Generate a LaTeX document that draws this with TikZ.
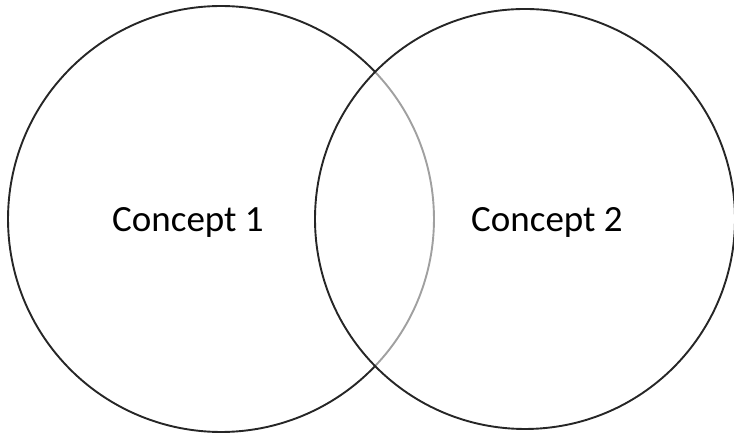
\documentclass[tikz,border=0pt]{standalone}
\usepackage{xcolor}
\usepackage{fontspec}
\setmainfont{Carlito}
\usepackage{tikz}
\usetikzlibrary{positioning}

\definecolor{ringdark}{HTML}{262626}
\definecolor{ringgray}{HTML}{A0A0A0}

\begin{document}
\begin{tikzpicture}[x=1pt,y=1pt,
  ring/.style={line width=1.9pt, draw=ringdark},
  conceptlabel/.style={font=\fontsize{37}{44}\selectfont, text=black, anchor=base, inner sep=0pt}]
  \useasboundingbox (0,0) rectangle (734,435);
  \coordinate (c1) at (221,216);
  \coordinate (c2) at (525,216);
  % left circle: outer arc dark, arc inside the right circle gray
  \draw[ring] (c1) ++(43.65:213) arc[start angle=43.65, end angle=316.35, radius=213];
  \draw[ring, draw=ringgray] (c1) ++(-43.65:213) arc[start angle=-43.65, end angle=43.65, radius=213];
  \draw[ring] (c2) circle[radius=210];
  \node[conceptlabel] (concept1) at (188,203.3) {Concept 1};
  \node[conceptlabel] (concept2) at (547,203.3) {Concept 2};
\end{tikzpicture}
\end{document}
